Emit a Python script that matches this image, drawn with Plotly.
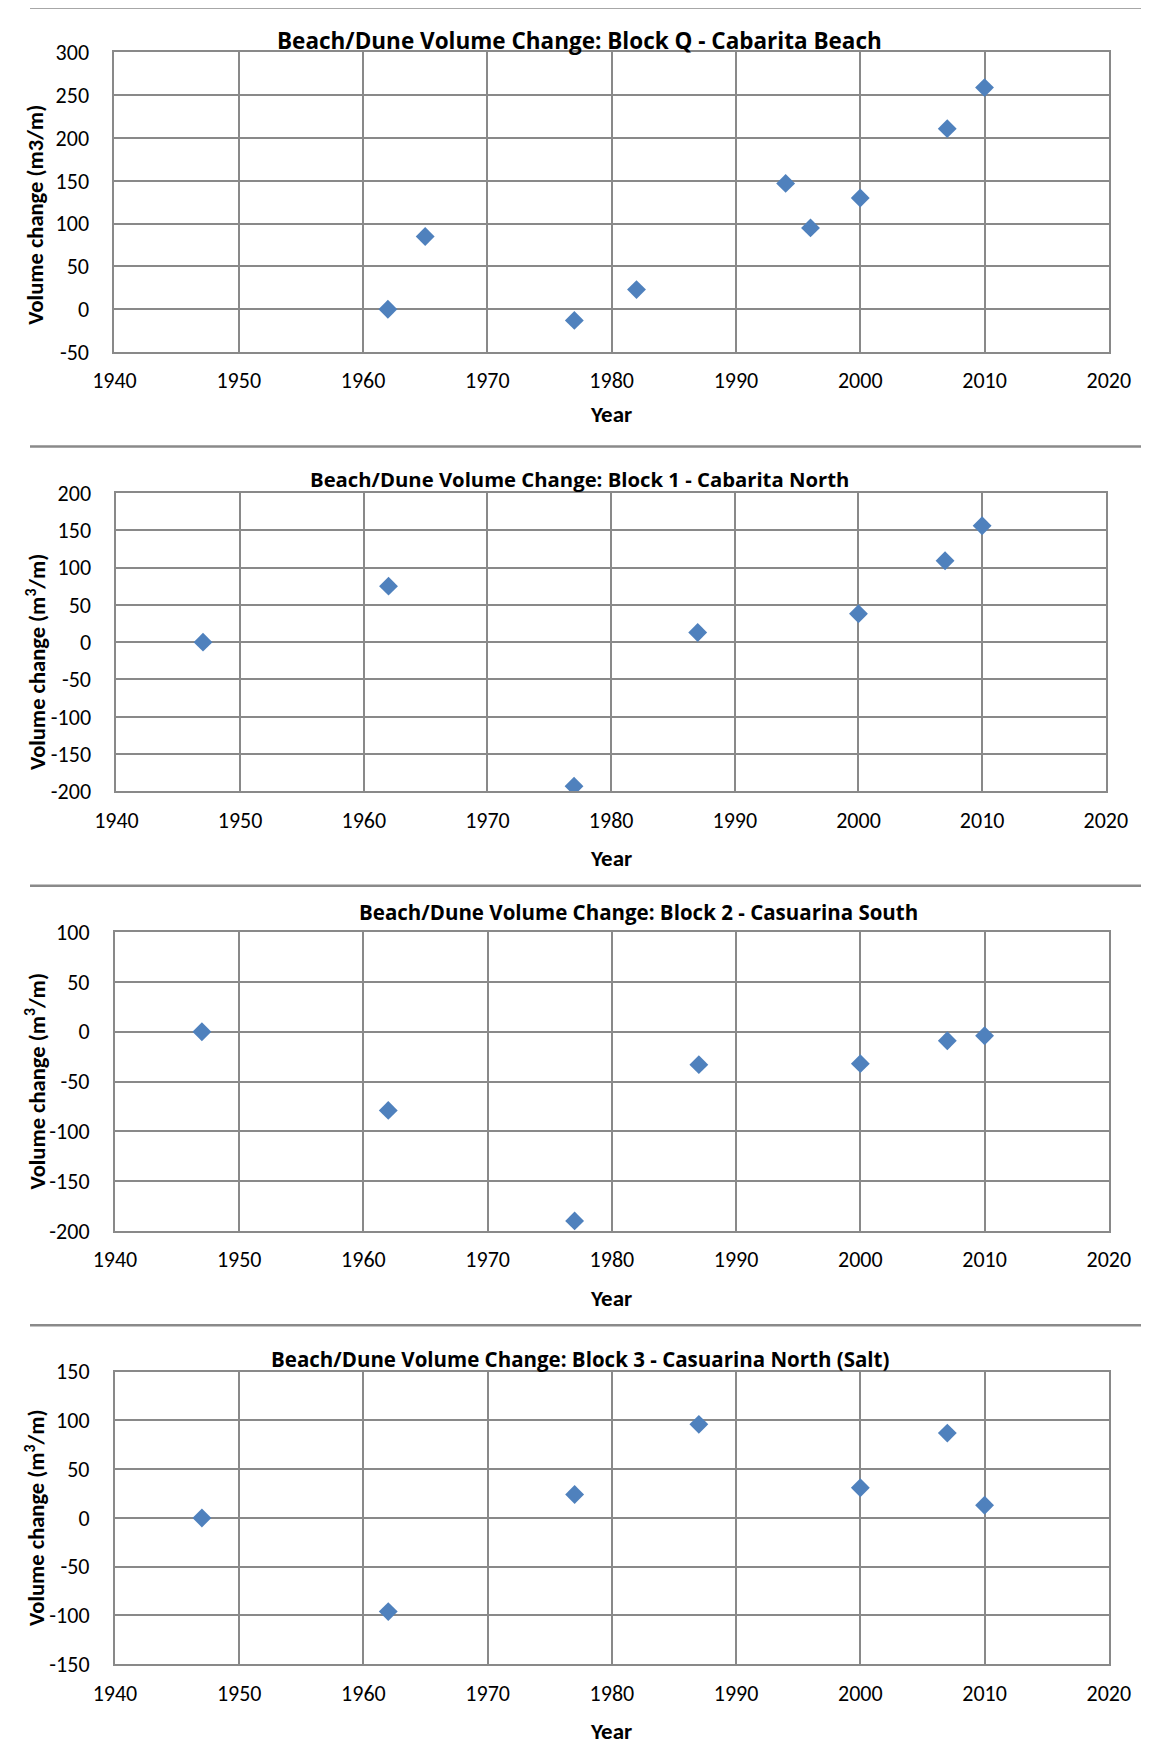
import plotly.graph_objects as go

# the photo of the page maps figure pixels to picture pixels as
# pic = A + S * fig (measured), so page positions are converted back here
AX, SX = 28.5, 0.963
AY, SY = 20.5, 0.986
W, H = 1170, 1760

# data
titles = [
    'Beach/Dune Volume Change: Block Q - Cabarita Beach',
    'Beach/Dune Volume Change: Block 1 - Cabarita North',
    'Beach/Dune Volume Change: Block 2 - Casuarina South',
    'Beach/Dune Volume Change: Block 3 - Casuarina North (Salt)',
]
ytitles = [
    'Volume change (m3/m)',
    'Volume change (m<sup>3</sup>/m)',
    'Volume change (m<sup>3</sup>/m)',
    'Volume change (m<sup>3</sup>/m)',
]

years_q = [1962, 1965, 1977, 1982, 1994, 1996, 2000, 2007, 2010]
vol_q = [0, 85, -13, 23, 147, 95, 130, 211, 259]

years_1 = [1947, 1962, 1977, 1987, 2000, 2007, 2010]
vol_1 = [0, 75, -193, 13, 38, 109, 156]

years_2 = [1947, 1962, 1977, 1987, 2000, 2007, 2010]
vol_2 = [0, -79, -190, -33, -32, -9, -4]

years_3 = [1947, 1962, 1977, 1987, 2000, 2007, 2010]
vol_3 = [0, -96, 24, 96, 31, 87, 13]

xticks = [1940, 1950, 1960, 1970, 1980, 1990, 2000, 2010, 2020]
yticks_q = [-50, 0, 50, 100, 150, 200, 250, 300]
yticks_1 = [-200, -150, -100, -50, 0, 50, 100, 150, 200]
yticks_2 = [-200, -150, -100, -50, 0, 50, 100]
yticks_3 = [-150, -100, -50, 0, 50, 100, 150]

series = [(years_q, vol_q), (years_1, vol_1), (years_2, vol_2), (years_3, vol_3)]
yticks = [yticks_q, yticks_1, yticks_2, yticks_3]

# picture-pixel layout of each panel: plot box (x0, x1, y0, y1)
boxes = [(113, 1108, 52, 352), (115, 1105, 493, 792), (113.5, 1108, 933, 1232), (113.5, 1108, 1373, 1666)]
frame_h = [7, 446.5, 886.5, 1326.5]   # horizontal frame lines between the charts
frame_right = (1147, 447, 886)          # only the second chart shows its right edge
title_pos = [(578, 40), (578, 479), (637, 913), (579, 1360)]
title_size = [22.5, 20.3, 20.5, 20.5]
ytitle_y = [214, 662, 1082, 1519]
xtitle_y = [414, 859, 1299, 1733]

FONT = 'Calibri, Carlito, Lato, sans-serif'
TFONT = 'Open Sans, sans-serif'
GRID = '#898989'


def px(x):
    return (x - AX) / SX / W


def py(y):
    return 1 - (y - AY) / SY / H


fig = go.Figure()
layout = dict(
    width=W, height=H,
    margin=dict(l=0, r=0, t=0, b=0),
    paper_bgcolor='white', plot_bgcolor='white',
    showlegend=False,
    font=dict(family=FONT, size=22, color='black'),
)
shapes = []
annotations = []

for i, (xs, ys) in enumerate(series):
    n = '' if i == 0 else str(i + 1)
    fig.add_trace(go.Scatter(
        x=xs, y=ys, mode='markers',
        marker=dict(symbol='diamond', size=14.5, color='#4F81BD', line=dict(width=0)),
        xaxis='x' + n, yaxis='y' + n,
    ))
    bx0, bx1, by0, by1 = boxes[i]
    layout['xaxis' + n] = dict(
        domain=[px(bx0), px(bx1)], anchor='y' + n,
        range=[xticks[0], xticks[-1]], tickvals=xticks,
        showgrid=True, gridcolor=GRID, gridwidth=1.6,
        showline=True, linecolor=GRID, linewidth=2, mirror=True,
        zeroline=False, ticks='', ticklabelstandoff=8,
        tickfont=dict(family=FONT, size=22, color='black'),
    )
    yt = yticks[i]
    layout['yaxis' + n] = dict(
        domain=[py(by1), py(by0)], anchor='x' + n,
        range=[yt[0], yt[-1]], tickvals=yt, ticktext=[str(v) for v in yt],
        showgrid=True, gridcolor=GRID, gridwidth=1.6,
        showline=True, linecolor=GRID, linewidth=2, mirror=True,
        zeroline=False, ticks='', ticklabelstandoff=19,
        tickfont=dict(family=FONT, size=22, color='black'),
    )
    tx, ty = title_pos[i]
    annotations.append(dict(
        text='<b>' + titles[i] + '</b>', xref='paper', yref='paper',
        x=px(tx), y=py(ty), xanchor='center', yanchor='middle', showarrow=False,
        font=dict(family=TFONT, size=title_size[i], color='black'),
    ))
    annotations.append(dict(
        text='<b>' + ytitles[i] + '</b>', xref='paper', yref='paper',
        x=px(34), y=py(ytitle_y[i]), xanchor='center', yanchor='middle', showarrow=False,
        textangle=-90, font=dict(family=FONT, size=22.5, color='black'),
    ))
    annotations.append(dict(
        text='<b>Year</b>', xref='paper', yref='paper',
        x=px(610), y=py(xtitle_y[i]), xanchor='center', yanchor='middle', showarrow=False,
        font=dict(family=FONT, size=23, color='black'),
    ))

# chart frames
for fy in frame_h:
    shapes.append(dict(
        type='line', xref='paper', yref='paper',
        x0=0, x1=1, y0=py(fy), y1=py(fy),
        line=dict(color='#8a8a8a', width=2.5), layer='below',
    ))
rx, ry0, ry1 = frame_right
shapes.append(dict(
    type='line', xref='paper', yref='paper',
    x0=px(rx), x1=px(rx), y0=py(ry1), y1=py(ry0),
    line=dict(color='#8a8a8a', width=2), layer='below',
))

layout['shapes'] = shapes
layout['annotations'] = annotations
fig.update_layout(**layout)

fig.write_html('out.html')
